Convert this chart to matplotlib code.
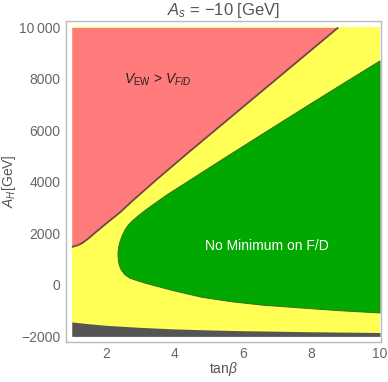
import numpy as np
import matplotlib
matplotlib.use("Agg")
import matplotlib.pyplot as plt

plt.rcParams['font.family'] = ['Liberation Sans', 'DejaVu Sans']
plt.rcParams['mathtext.fontset'] = 'custom'
plt.rcParams['mathtext.rm'] = 'Liberation Sans'
plt.rcParams['mathtext.it'] = 'Liberation Sans:italic'

# boundary of V_EW > V_F/D (red, above curve)
red_x = [1.0, 1.15, 1.3, 1.5, 1.7, 1.9, 2.1, 2.4, 2.8, 3.5, 4.4, 5.5, 6.5, 7.5, 8.78]
red_y = [1475, 1530, 1620, 1820, 2050, 2270, 2490, 2810, 3300, 4120, 5140, 6360, 7470, 8580, 10000]

# "No Minimum on F/D" region (green), upper and lower branch from the tip
green_up_x = [2.35, 2.37, 2.41, 2.47, 2.55, 2.65, 2.78, 2.95, 3.2, 3.75, 4.5, 5.5, 6.5, 7.85, 9.0, 10.0]
green_up_y = [1240, 1480, 1680, 1900, 2120, 2320, 2500, 2690, 2950, 3470, 4110, 4960, 5800, 6930, 7880, 8700]
green_lo_x = [2.35, 2.355, 2.37, 2.40, 2.45, 2.55, 2.7, 2.9, 3.17, 3.5, 4.05, 4.8, 5.7, 6.6, 7.64, 8.8, 10.0]
green_lo_y = [1240, 1050, 880, 720, 570, 400, 260, 170, 60, -60, -250, -480, -660, -790, -890, -1000, -1090]

# dark band at the bottom
dark_x = [1, 1.5, 2, 3, 4, 5, 6, 8, 10]
dark_y = [-1440, -1510, -1570, -1650, -1710, -1750, -1780, -1820, -1850]

x_ticks = [2, 4, 6, 8, 10]
y_ticks = [-2000, 0, 2000, 4000, 6000, 8000, 10000]
y_labels = ['\u22122000', '0', '2000', '4000', '6000', '8000', '10\u2009000']

RED = '#ff7a7a'
YELLOW = '#ffff55'
GREEN = '#00a800'
DARK = '#555555'

fig = plt.figure(figsize=(3.88, 3.82), dpi=100)
ax = fig.add_axes([0.170, 0.105, 0.812, 0.840])

# background yellow
ax.fill_between([1, 10], [-2000, -2000], [10000, 10000], color=YELLOW, lw=0)
# red
ax.fill_between(red_x, red_y, 10000, color=RED, lw=0)
ax.plot(red_x, red_y, color='#6e4a4a', lw=1.3, solid_capstyle='butt')
# green
gx = green_up_x[::-1] + green_lo_x[1:]
gy = green_up_y[::-1] + green_lo_y[1:]
ax.fill(gx, gy, facecolor=GREEN, edgecolor='#2f6e1a', lw=0.7)
# dark
ax.fill_between(dark_x, -2000, dark_y, color=DARK, lw=0)

ax.set_xlim(0.83, 10.03)
ax.set_ylim(-2214, 10252)
ax.set_xticks(x_ticks)
ax.set_yticks(y_ticks)
ax.set_yticklabels(y_labels)
ax.tick_params(length=0, labelsize=10, colors='#666666', pad=4)
for s in ax.spines.values():
    s.set_color('#bbbbbb')
    s.set_linewidth(1.0)

ax.set_title('$A_s$ = \u221210 [GeV]', fontsize=12, color='#555555', pad=4)
ax.set_xlabel('tan$\\beta$', fontsize=10, color='#555555', va='center')
ax.xaxis.set_label_coords(0.5, -0.085)
ax.set_ylabel('$A_H$[GeV]', fontsize=10, color='#555555', va='center')
ax.yaxis.set_label_coords(-0.182, 0.5)

ax.text(3.52, 7960, '$V_{\\rm EW}$ > $V_{F/D}$', fontsize=10, color='#222222',
        ha='center', va='center')
ax.text(6.70, 1514, 'No Minimum on F/D', fontsize=10, color='white',
        ha='center', va='center')

fig.savefig('out.png', dpi=100)
